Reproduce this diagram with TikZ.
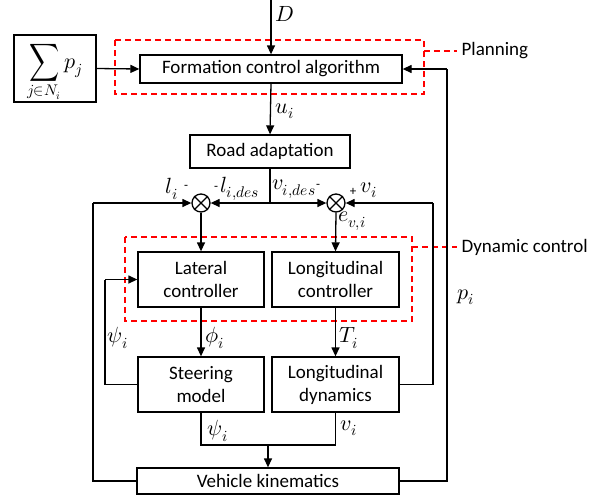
\documentclass[tikz,border=0pt]{standalone}
\usepackage{fontspec}
\usepackage{unicode-math}
\setmainfont{Carlito}
\setmathfont{Latin Modern Math}
\usetikzlibrary{arrows.meta}
\begin{document}
\begin{tikzpicture}[x=1pt,y=-1pt,
  line width=1.3pt,
  font=\fontsize{19}{23}\selectfont,
  blk/.style={draw,rectangle,inner sep=0pt,align=center},
  sumc/.style={draw,circle,inner sep=0pt,minimum size=18pt},
  arr/.style={-{Triangle[length=9pt,width=8pt]}},
  reddash/.style={draw=red,dash pattern=on 6pt off 4pt,line width=1.3pt},
  lbl/.style={inner sep=0pt,font=\fontsize{22}{24}\selectfont},
  sgn/.style={inner sep=0pt,font=\fontsize{13}{13}\selectfont}]
\useasboundingbox (0,0) rectangle (599,499);
% boxes
\node[blk,minimum width=82pt,minimum height=67pt,font=\fontsize{22}{24}\selectfont] (sum) at (55,68.5) {\raisebox{-5pt}[\height][\depth]{$\displaystyle\mathop{\vcenter{\hbox{\scalebox{0.95}[1.2]{$\displaystyle\sum$}}}}\limits_{j\in N_i} p_j$}};
\node[blk,minimum width=262pt,minimum height=28pt] (form) at (271,69) {Formation control algorithm};
\node[blk,minimum width=160pt,minimum height=33pt] (road) at (270,151.5) {Road adaptation};
\node[blk,minimum width=126pt,minimum height=55pt] (lat) at (201,279.5) {Lateral\\controller};
\node[blk,minimum width=127pt,minimum height=55pt] (lonc) at (335.5,279.5) {Longitudinal\\controller};
\node[blk,minimum width=126pt,minimum height=55pt] (steer) at (201,384.5) {Steering\\model};
\node[blk,minimum width=127pt,minimum height=55pt] (lond) at (335.5,384.5) {Longitudinal\\dynamics};
\node[blk,minimum width=262pt,minimum height=26pt] (veh) at (268,481) {Vehicle kinematics};
% summing junctions
\node[sumc] (c1) at (201,203) {};
\draw (c1.north east) -- (c1.south west) (c1.north west) -- (c1.south east);
\node[sumc] (c2) at (336,203) {};
\draw (c2.north east) -- (c2.south west) (c2.north west) -- (c2.south east);
% coordinates
\coordinate (Dtop) at (271,0);
\coordinate (rj) at (270,203);
\coordinate (bj) at (268,445);
\coordinate (L1) at (93,203);
\coordinate (L2) at (105,279.5);
\coordinate (R1) at (433,203);
\coordinate (R2) at (447,69);
% dashed groups
\draw[reddash] (115,40) rectangle (424,94);
\draw[reddash] (424,51) -- (457,51);
\node[lbl,anchor=west,font=\fontsize{19}{23}\selectfont] (plan) at (461,51) {Planning};
\draw[reddash] (125,237) rectangle (412,321);
\draw[reddash] (412,247) -- (457,247);
\node[lbl,anchor=west,font=\fontsize{19}{23}\selectfont] (dyn) at (461,247) {Dynamic control};
% connectors
\draw[arr] (Dtop) -- (form.north);
\draw[arr] (sum.east) -- (form.west);
\draw[arr] (form.south) -- (road.north);
\draw (road.south) -- (rj);
\draw[arr] (rj) -- (c1.east);
\draw[arr] (rj) -- (c2.west);
\draw[arr] (c1.south) -- (lat.north);
\draw[arr] (c2.south) -- (lonc.north);
\draw[arr] (lat.south) -- (steer.north);
\draw[arr] (lonc.south) -- (lond.north);
\draw (steer.south) |- (bj) -| (lond.south);
\draw[arr] (bj) -- (veh.north);
\draw (veh.west) -| (L1);
\draw[arr] (L1) -- (c1.west);
\draw (lond.east) -| (R1);
\draw[arr] (R1) -- (c2.east);
\draw (veh.east) -| (R2);
\draw[arr] (R2) -- (form.east);
\draw (steer.west) -| (L2);
\draw[arr] (L2) -- (lat.west);
% labels
\node[lbl] (lD) at (285,14) {$D$};
\node[lbl] (lu) at (285,111) {$u_i$};
\node[lbl] (lp) at (466,297) {$p_i$};
\node[lbl] (ll) at (172,189) {$l_i$};
\node[sgn] (s1) at (186,187) {-};
\node[sgn] (s2) at (216,188) {-};
\node[lbl] (lld) at (240,189) {$l_{i,des}$};
\node[lbl] (lvd) at (294,189) {$v_{i,des}$};
\node[sgn] (s3) at (318,186) {-};
\node[sgn] (s4) at (353,192) {+};
\node[lbl] (lv) at (369,190) {$v_i$};
\node[lbl] (le) at (352,221) {$e_{v,i}$};
\node[lbl] (lpsi) at (118,338) {$\psi_i$};
\node[lbl] (lphi) at (215,338) {$\phi_i$};
\node[lbl] (lT) at (349,338) {$T_i$};
\node[lbl] (lpsi2) at (218,431) {$\psi_i$};
\node[lbl] (lv2) at (349,428) {$v_i$};
\end{tikzpicture}
\end{document}
